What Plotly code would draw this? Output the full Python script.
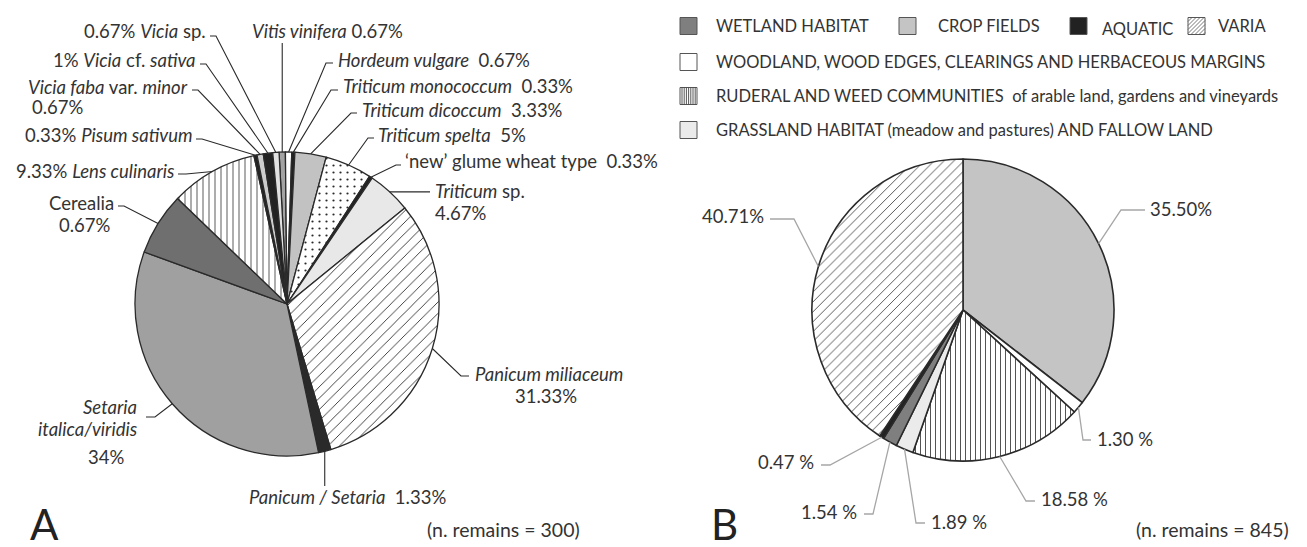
import math
import plotly.graph_objects as go

W, H = 1307, 547

# ---------------- DATA ----------------
# Panel A: charred plant remains (n = 300), slices clockwise from 12 o'clock
taxa_a = ["Vitis vinifera", "Hordeum vulgare", "Triticum monococcum", "Triticum dicoccum",
          "Triticum spelta", "'new' glume wheat type", "Triticum sp.", "Panicum miliaceum",
          "Panicum / Setaria", "Setaria italica/viridis", "Cerealia", "Lens culinaris",
          "Pisum sativum", "Vicia faba var. minor", "Vicia cf. sativa", "Vicia sp."]
share_a = [0.67, 0.67, 0.33, 3.33, 5, 0.33, 4.67, 31.33, 1.33, 34, 6.67, 9.33, 0.33, 0.67, 1, 0.67]
printed_a = ["0.67%", "0.67%", "0.33%", "3.33%", "5%", "0.33%", "4.67%", "31.33%",
             "1.33%", "34%", "0.67%", "9.33%", "0.33%", "0.67%", "1%", "0.67%"]

# Panel B: habitat groups of wild plants (n = 845), clockwise from 12 o'clock
habitats_b = ["CROP FIELDS", "WOODLAND, WOOD EDGES, CLEARINGS AND HERBACEOUS MARGINS",
              "RUDERAL AND WEED COMMUNITIES of arable land, gardens and vineyards",
              "GRASSLAND HABITAT (meadow and pastures) AND FALLOW LAND",
              "WETLAND HABITAT", "AQUATIC", "VARIA"]
share_b = [35.50, 1.30, 18.58, 1.89, 1.54, 0.47, 40.71]
printed_b = ["35.50%", "1.30 %", "18.58 %", "1.89 %", "1.54 %", "0.47 %", "40.71%"]

n_a, n_b = 300, 845

# ---------------- STYLES ----------------
FONT = "Lato, 'Open Sans', sans-serif"
TXT = "#333333"
EDGE = "#2a2a2a"
LAB = 18.5

colors_a = ["#a3a3a3", "#ffffff", "#222222", "#c2c2c2", "#ffffff", "#222222", "#e8e8e8",
            "#ffffff", "#2a2a2a", "#a0a0a0", "#6f6f6f", "#ffffff", "#222222", "#cdcdcd",
            "#222222", "#e2e2e2"]
shapes_a = ["", "", "", "", ".", "", "", "/", "", "", "", "|", "", "", "", ""]
psize_a = [8, 8, 8, 8, 7, 8, 8, 8, 8, 8, 8, 6, 8, 8, 8, 8]
psol_a = [0.2, 0.2, 0.2, 0.2, 0.08, 0.2, 0.2, 0.11, 0.2, 0.2, 0.2, 0.13, 0.2, 0.2, 0.2, 0.2]

colors_b = ["#c4c4c4", "#ffffff", "#ffffff", "#ebebeb", "#7f7f7f", "#222222", "#ffffff"]
shapes_b = ["", "", "|", "", "", "", "/"]
psize_b = [8, 8, 5, 8, 8, 8, 7]
psol_b = [0.2, 0.2, 0.16, 0.2, 0.2, 0.2, 0.11]

# geometry of the two pies (pixels)
CA, RA, ROT_A = (279, 296), 152, -3
CB, RB, ROT_B = (955, 302), 151, 0


def X(px):
    return px / W


def Y(py):
    return 1 - py / H


def dom(c, r):
    return dict(x=[X(c[0] - r), X(c[0] + r)], y=[Y(c[1] + r), Y(c[1] - r)])


def mid_points(values, rot, c, r):
    tot = sum(values)
    cum = 0
    pts = []
    for v in values:
        a = math.radians(rot + (cum + v / 2) / tot * 360)
        pts.append((c[0] + r * math.sin(a), c[1] - r * math.cos(a)))
        cum += v
    return pts


fig = go.Figure()
fig.add_trace(go.Pie(
    labels=taxa_a, values=share_a, sort=False, direction="clockwise", rotation=ROT_A,
    domain=dom(CA, RA), textinfo="none", hoverinfo="label+value", showlegend=False,
    marker=dict(colors=colors_a, line=dict(color=EDGE, width=1.3),
                pattern=dict(shape=shapes_a, fgcolor="#2a2a2a", size=psize_a,
                             solidity=psol_a, fillmode="replace")),
))
fig.add_trace(go.Pie(
    labels=habitats_b, values=share_b, sort=False, direction="clockwise", rotation=ROT_B,
    domain=dom(CB, RB), textinfo="none", hoverinfo="label+value", showlegend=False,
    marker=dict(colors=colors_b, line=dict(color=EDGE, width=1.6),
                pattern=dict(shape=shapes_b, fgcolor="#2a2a2a", size=psize_b,
                             solidity=psol_b, fillmode="replace")),
))

shapes = []
annos = []


def text(t, x, y, anchor, size=LAB, color=TXT):
    annos.append(dict(text=t, x=X(x), y=Y(y), xref="paper", yref="paper",
                      xanchor=anchor, yanchor="middle", showarrow=False,
                      font=dict(family=FONT, size=size, color=color)))


def leader(p, elbow, tick, color, width):
    ex = p[0] if elbow[0] is None else elbow[0]
    ey = p[1] if elbow[1] is None else elbow[1]
    path = f"M {X(p[0])},{Y(p[1])} L {X(ex)},{Y(ey)}"
    if tick is not None:
        path += f" L {X(tick[0])},{Y(tick[1])}"
    shapes.append(dict(type="path", path=path, xref="paper", yref="paper",
                       line=dict(color=color, width=width)))


NB = "\u00a0"
# ----- Panel A labels: (elbow, tick end) and text pieces
name_mk = ["<i>Vitis vinifera</i>", "<i>Hordeum vulgare</i>", "<i>Triticum monococcum</i>",
           "<i>Triticum dicoccum</i>", "<i>Triticum spelta</i>", "\u2018new\u2019 glume wheat type",
           "<i>Triticum</i> sp.", "<i>Panicum miliaceum</i>", "<i>Panicum / Setaria</i>",
           None, "Cerealia", "<i>Lens culinaris</i>", "<i>Pisum sativum</i>",
           "<i>Vicia faba</i> var. <i>minor</i>", "<i>Vicia</i> cf. <i>sativa</i>", "<i>Vicia</i> sp."]
leader_a = [((None, 35), None), ((318, 55), (325, 55)), ((323, 82), (330, 82)),
            ((343, 105), (349, 105)), ((360, 130), (366, 130)), ((388, 157), (393, 157)),
            ((422, None), None), ((453, 368), (461, 368)), ((None, 478), None),
            ((147, 409), (138, 409)), ((116, 198), (110, 198)), ((178, 166), (170, 166)),
            ((194, 131), (188, 131)), ((190, 82), (184, 82)), ((198, 56), (192, 56)),
            ((208, 28), (202, 28))]
pts_a = mid_points(share_a, ROT_A, CA, RA)
for p, (el, tk) in zip(pts_a, leader_a):
    leader(p, el, tk, "#2a2a2a", 1.1)

pa = printed_a
text(f"{name_mk[0]} {pa[0]}", 242, 23, "left")
text(f"{name_mk[1]}{NB} {pa[1]}", 328, 52, "left")
text(f"{name_mk[2]}{NB} {pa[2]}", 333, 78, "left")
text(f"{name_mk[3]}{NB} {pa[3]}", 352, 102, "left")
text(f"{name_mk[4]}{NB} {pa[4]}", 368, 127, "left")
text(f"{name_mk[5]}{NB} {pa[5]}", 395, 153, "left")
text(name_mk[6], 425, 183, "left")
text(pa[6], 425, 205, "left")
text(name_mk[7], 465, 366, "left")
text(pa[7], 538, 388, "center")
text(f"{name_mk[8]}{NB} {pa[8]}", 339, 489, "center")
text("<i>Setaria</i>", 131, 399, "right")
text("<i>italica/viridis</i>", 131, 421, "right")
text(pa[9], 98, 449, "center")
text(name_mk[10], 108, 195, "right")
text(pa[10], 105, 217, "right")
text(f"{pa[11]} {name_mk[11]}", 168, 163, "right")
text(f"{pa[12]} {name_mk[12]}", 187, 127, "right")
text(name_mk[13], 182, 79, "right")
text(pa[13], 22, 99, "left")
text(f"{pa[14]} {name_mk[14]}", 190, 52, "right")
text(f"{pa[15]} {name_mk[15]}", 200, 23, "right")

# ----- Panel B labels
leader_b = [((1113, 202), (1137, 202)), ((1075, 432), (1083, 432)), ((1018, 493), (1027, 493)),
            ((908, 515), (917, 515)), ((865, 506), (856, 506)), ((822, 457), (813, 457)),
            ((786, 211), (762, 211))]
text_b = [(1140, 201, "left"), (1087, 431, "left"), (1031, 491, "left"), (921, 514, "left"),
          (851, 504, "right"), (808, 454, "right"), (758, 208, "right")]
pts_b = mid_points(share_b, ROT_B, CB, RB)
for p, (el, tk), (tx, ty, anc), lab in zip(pts_b, leader_b, text_b, printed_b):
    leader(p, el, tk, "#a6a6a6", 1.3)
    text(lab, tx, ty, anc)

# ----- Panel letters and sample sizes
text("A", 20, 516, "left", size=42, color="#222222")
text("B", 701, 516, "left", size=42, color="#222222")
text(f"(n. remains = {n_a})", 495, 521, "center", size=19.5)
text(f"(n. remains = {n_b})", 1204, 521, "center", size=19.5)

# ----- Legend for panel B (manual swatches)
SW = 17


def swatch(x0, yc, fill, kind=""):
    y0, y1 = yc - SW / 2, yc + SW / 2
    x1 = x0 + SW
    shapes.append(dict(type="rect", xref="paper", yref="paper", x0=X(x0), x1=X(x1),
                       y0=Y(y1), y1=Y(y0), fillcolor=fill,
                       line=dict(color="#555555", width=1)))
    if kind == "|":
        path = ""
        xx = x0 + 2
        while xx < x1 - 1:
            path += f"M {X(xx)},{Y(y0)} L {X(xx)},{Y(y1)} "
            xx += 2.2
        shapes.append(dict(type="path", path=path, xref="paper", yref="paper",
                           line=dict(color="#444444", width=0.9)))
    elif kind == "/":
        path = ""
        k = 4
        while k < 2 * SW:
            ax, ay = x0 + max(0, k - SW), y0 + min(k, SW)
            bx, by = x0 + min(k, SW), y0 + max(0, k - SW)
            path += f"M {X(ax)},{Y(ay)} L {X(bx)},{Y(by)} "
            k += 4
        shapes.append(dict(type="path", path=path, xref="paper", yref="paper",
                           line=dict(color="#555555", width=0.8)))


leg_rows = [  # (habitat index, swatch x, row y, text x)
    (4, 672, 18, 706), (0, 891, 18, 928), (5, 1062, 18, 1092), (6, 1180, 18, 1208),
    (1, 672, 54, 706), (2, 672, 88, 706), (3, 672, 122, 706),
]
for idx, sx, yc, tx in leg_rows:
    swatch(sx, yc, colors_b[idx], shapes_b[idx])
    lab = habitats_b[idx]
    if idx == 2:
        lab = "RUDERAL AND WEED COMMUNITIES" + NB + " of arable land, gardens and vineyards"
    ty = yc + 3 if idx == 5 else yc
    text(lab, tx, ty, "left", size=16.5)

fig.update_layout(
    width=W, height=H, margin=dict(l=0, r=0, t=0, b=0),
    paper_bgcolor="white", plot_bgcolor="white",
    shapes=shapes, annotations=annos, showlegend=False,
    font=dict(family=FONT, color=TXT),
)
fig.write_html("out.html")
